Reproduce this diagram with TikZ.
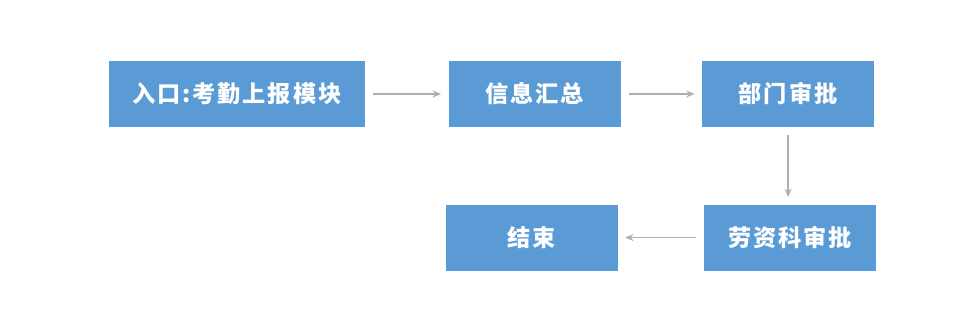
\documentclass[tikz,border=0pt]{standalone}
\usepackage{fontspec}
\usepackage{tikz}
\usetikzlibrary{arrows.meta,positioning}
\usepackage{xcolor}
\newfontfamily\cjk[LetterSpace=8]{Noto Sans CJK SC}
\definecolor{flowblue}{RGB}{91,155,213}
\definecolor{flowgray}{RGB}{175,175,175}

\begin{document}
\begin{tikzpicture}[
    box/.style={rectangle,draw=none,fill=flowblue,text=white,
                minimum width=4.3cm,minimum height=1.65cm,align=center,
                inner sep=0pt,font=\cjk\bfseries\fontsize{16.5}{19}\selectfont},
    arr/.style={-{Stealth[length=6pt,width=5pt]},line width=1pt,flowgray,
                shorten <=0.2cm,shorten >=0.18cm},
  ]
    \node[box,minimum width=6.4cm] (entry) at (5.925,-2.35) {入口:考勤上报模块};
    \node[box,right=2.075cm of entry] (collect) {信息汇总};
    \node[box,right=2.025cm of collect] (dept) {部门审批};
    \node[box,below=1.925cm of dept,xshift=0.05cm] (labor) {劳资科审批};
    \node[box,left=2.15cm of labor] (finish) {结束};
    \draw[arr] (entry) -- (collect);
    \draw[arr] (collect) -- (dept);
    \draw[arr] (dept.south) -- (dept.south |- labor.north);
    \draw[arr] (labor) -- (finish);
    \useasboundingbox (0,0) rectangle (23.825,-7.95);
  \end{tikzpicture}
\end{document}
